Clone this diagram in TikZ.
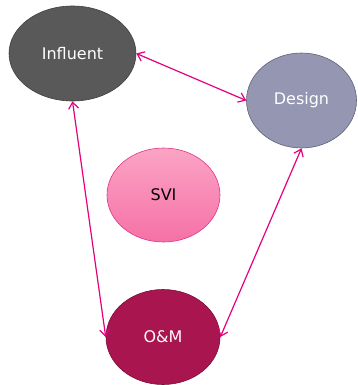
\documentclass[tikz,border=0pt]{standalone}
\usepackage{fontspec}
\setmainfont{DejaVu Sans}
\usetikzlibrary{shapes.geometric,arrows.meta}
\definecolor{infl}{HTML}{595959}
\definecolor{inflb}{HTML}{3F3F3F}
\definecolor{desf}{HTML}{9496B2}
\definecolor{desb}{HTML}{60627A}
\definecolor{svit}{HTML}{FBA4C4}
\definecolor{svib}{HTML}{F571A6}
\definecolor{svid}{HTML}{E2338A}
\definecolor{omf}{HTML}{A8154F}
\definecolor{omb}{HTML}{7A0E3A}
\definecolor{arr}{HTML}{E5007E}
\tikzset{
  blob/.style={ellipse, inner sep=0pt, font=\fontsize{16}{18}\selectfont, line width=0.6pt},
  link/.style={arr, line width=1.2pt, {Straight Barb[length=6.5pt,width=10pt,line width=1.2pt]}-{Straight Barb[length=6.5pt,width=10pt,line width=1.2pt]}}
}
\begin{document}
\begin{tikzpicture}[x=1pt,y=-1pt]
\useasboundingbox (0,0) rectangle (357,385);
\node[blob, fill=infl, draw=inflb, text=white, minimum width=127pt, minimum height=95pt] (inf) at (72.5,53.5) {Influent};
\node[blob, fill=desf, draw=desb, text=white, minimum width=110pt, minimum height=95pt] (des) at (301.5,100.5) {\raisebox{-2pt}{Design}};
\node[blob, top color=svit, bottom color=svib, draw=svid, text=black, minimum width=113pt, minimum height=94pt] (svi) at (163.5,195) {SVI};
\node[blob, fill=omf, draw=omb, text=white!92!pink, minimum width=114pt, minimum height=95pt] (om) at (163,337) {O\&M};
\draw[link] (inf.east) -- (des.west);
\draw[link] (inf.south) -- (om.west);
\draw[link] (des.south) -- (om.east);
\end{tikzpicture}
\end{document}
